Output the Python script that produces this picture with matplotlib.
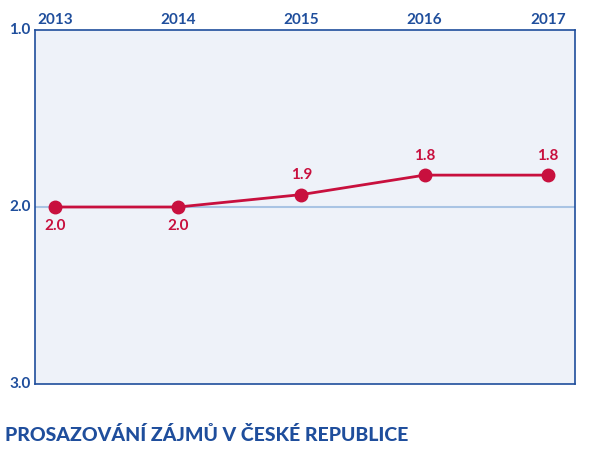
import matplotlib
matplotlib.use("Agg")
import matplotlib.pyplot as plt

years = [2013, 2014, 2015, 2016, 2017]
values = [2.0, 2.0, 1.93, 1.82, 1.82]
labels = ["2.0", "2.0", "1.9", "1.8", "1.8"]
y_ticks = [1.0, 2.0, 3.0]
title = "PROSAZOVÁNÍ ZÁJMŮ V ČESKÉ REPUBLICE"

blue = "#1f4e9c"
red = "#c8103e"
plt.rcParams["font.family"] = "Lato"

fig = plt.figure(figsize=(6.04, 4.59), dpi=100)
ax = fig.add_axes([0.058, 0.163, 0.894, 0.772])
ax.set_facecolor("#eef2f9")
for s in ax.spines.values():
    s.set_color(blue)
    s.set_linewidth(1.2)

ax.set_xlim(2012.84, 2017.22)
ax.set_ylim(3.0, 1.0)
ax.axhline(2.0, color="#a9c4e4", lw=1.5, zorder=1)

ax.plot(years, values, color=red, lw=2, marker="o", ms=9, zorder=3)
for x, v, t in zip(years, values, labels):
    off = 0.11 if v >= 2.0 else -0.11
    ax.text(x, v + off, t, color=red, fontsize=11, fontweight="bold",
            ha="center", va="center")

ax.xaxis.tick_top()
ax.set_xticks(years)
ax.set_xticklabels([str(y) for y in years], fontsize=11, fontweight="bold", color=blue)
ax.tick_params(axis="x", length=0, pad=2)
ax.set_yticks(y_ticks)
ax.set_yticklabels(["%.1f" % y for y in y_ticks], fontsize=11, fontweight="bold",
                   color=blue, va="center")
ax.tick_params(axis="y", length=0, pad=3)

fig.text(0.008, 0.04, title, fontsize=14, fontweight="heavy", color=blue)
fig.savefig("out.png", dpi=100)
